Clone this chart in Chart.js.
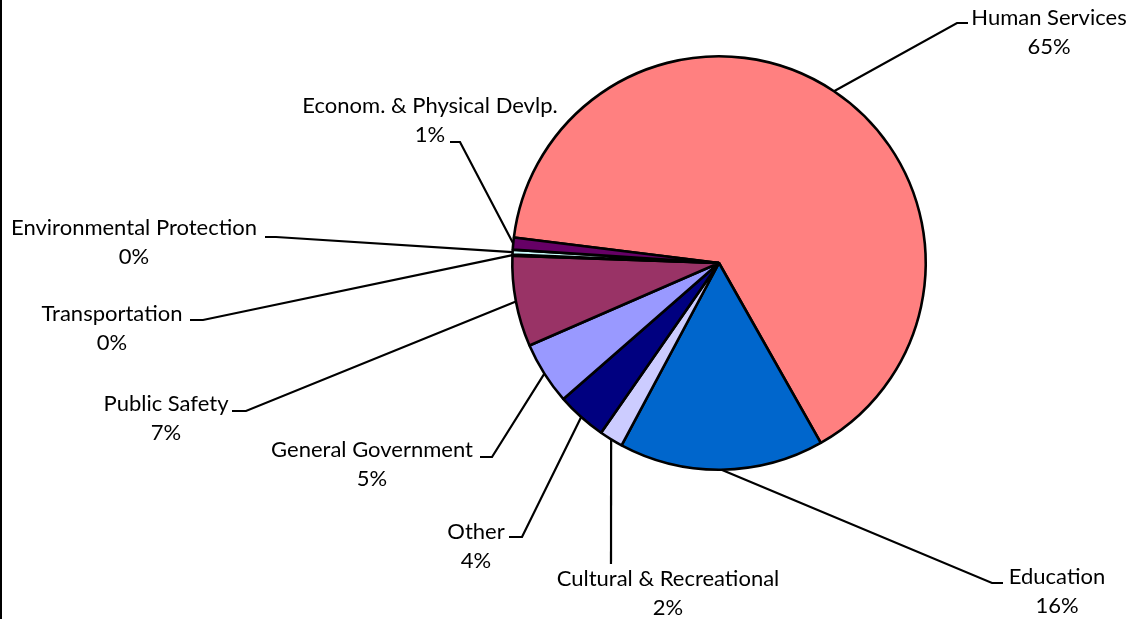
<!DOCTYPE html>
<html>
<head>
<meta charset="utf-8">
<title>Expenditures by Function</title>
<script src="https://cdn.jsdelivr.net/npm/chart.js@4.4.1/dist/chart.umd.min.js"></script>
<style>
    html, body { margin: 0; padding: 0; background: #fff; }
    #wrap { position: relative; width: 1134px; height: 619px; }
</style>
</head>
<body>
<div id="wrap"><canvas id="pieChart" width="1134" height="619"></canvas></div>
<script>
// ===== DATA =====
const categories = [
    'Human Services', 'Education', 'Cultural & Recreational', 'Other',
    'General Government', 'Public Safety', 'Transportation',
    'Environmental Protection', 'Econom. & Physical Devlp.'
];
const shares = [64.8, 16.0, 1.85, 3.9, 4.9, 7.1, 0.07, 0.39, 0.94];
const sliceColors = [
    '#FF8080', '#0066CC', '#CCCCFF', '#000080',
    '#9999FF', '#993366', '#FFFFCC', '#CCFFFF', '#660066'
];

// label placement: text centre (first line) and leader elbow -> end of short horizontal
const labelSpots = [
    { x: 1049, y: 18,  ex: 957, ey: 23,  hx: 968 },
    { x: 1057, y: 577, ex: 992, ey: 583, hx: 1003 },
    { x: 668,  y: 579, ex: 611, ey: 564, hx: 611 },
    { x: 476,  y: 532, ex: 522, ey: 537, hx: 509 },
    { x: 372,  y: 450, ex: 492, ey: 457, hx: 480 },
    { x: 166,  y: 404, ex: 246, ey: 411, hx: 232 },
    { x: 112,  y: 314, ex: 203, ey: 320, hx: 190 },
    { x: 134,  y: 228, ex: 276, ey: 237, hx: 265 },
    { x: 430,  y: 106, ex: 460, ey: 142, hx: 450 }
];

const FONT = '22px Lato, "Open Sans", sans-serif';
const LINE_GAP = 29;

// ===== PLUGINS =====
const frameLine = {
    id: 'frameLine',
    beforeDraw(chart) {
        const ctx = chart.ctx;
        ctx.save();
        ctx.fillStyle = '#000';
        ctx.fillRect(0, 0, 2, chart.height);
        ctx.restore();
    }
};

const leaderLabels = {
    id: 'leaderLabels',
    afterDatasetsDraw(chart) {
        const ctx = chart.ctx;
        const meta = chart.getDatasetMeta(0);
        const data = chart.data.datasets[0].data;
        const total = data.reduce((a, b) => a + b, 0);

        ctx.save();
        meta.data.forEach((arc, i) => {
            const spot = labelSpots[i];
            const p = arc.getProps(['x', 'y', 'startAngle', 'endAngle', 'outerRadius'], true);
            const mid = (p.startAngle + p.endAngle) / 2;
            const ax = p.x + Math.cos(mid) * p.outerRadius;
            const ay = p.y + Math.sin(mid) * p.outerRadius;

            // leader line
            ctx.strokeStyle = '#000';
            ctx.lineWidth = 2.2;
            ctx.lineJoin = 'miter';
            ctx.beginPath();
            ctx.moveTo(ax, ay);
            ctx.lineTo(spot.ex, spot.ey);
            ctx.lineTo(spot.hx, spot.ey);
            ctx.stroke();

            // two-line label
            const pct = Math.round(data[i] / total * 100) + '%';
            ctx.fillStyle = '#000';
            ctx.font = FONT;
            ctx.textAlign = 'center';
            ctx.textBaseline = 'middle';
            ctx.fillText(chart.data.labels[i], spot.x, spot.y);
            ctx.fillText(pct, spot.x, spot.y + LINE_GAP);
        });
        ctx.restore();
    }
};

// ===== CHART =====
new Chart(document.getElementById('pieChart'), {
    type: 'pie',
    data: {
        labels: categories,
        datasets: [{
            data: shares,
            backgroundColor: sliceColors,
            borderColor: '#000',
            borderWidth: 2.6
        }]
    },
    options: {
        responsive: false,
        animation: false,
        rotation: 277.1,
        layout: { padding: { left: 511, right: 207, top: 55, bottom: 148 } },
        plugins: {
            legend: { display: false },
            tooltip: { enabled: false }
        }
    },
    plugins: [frameLine, leaderLabels]
});
</script>
</body>
</html>
